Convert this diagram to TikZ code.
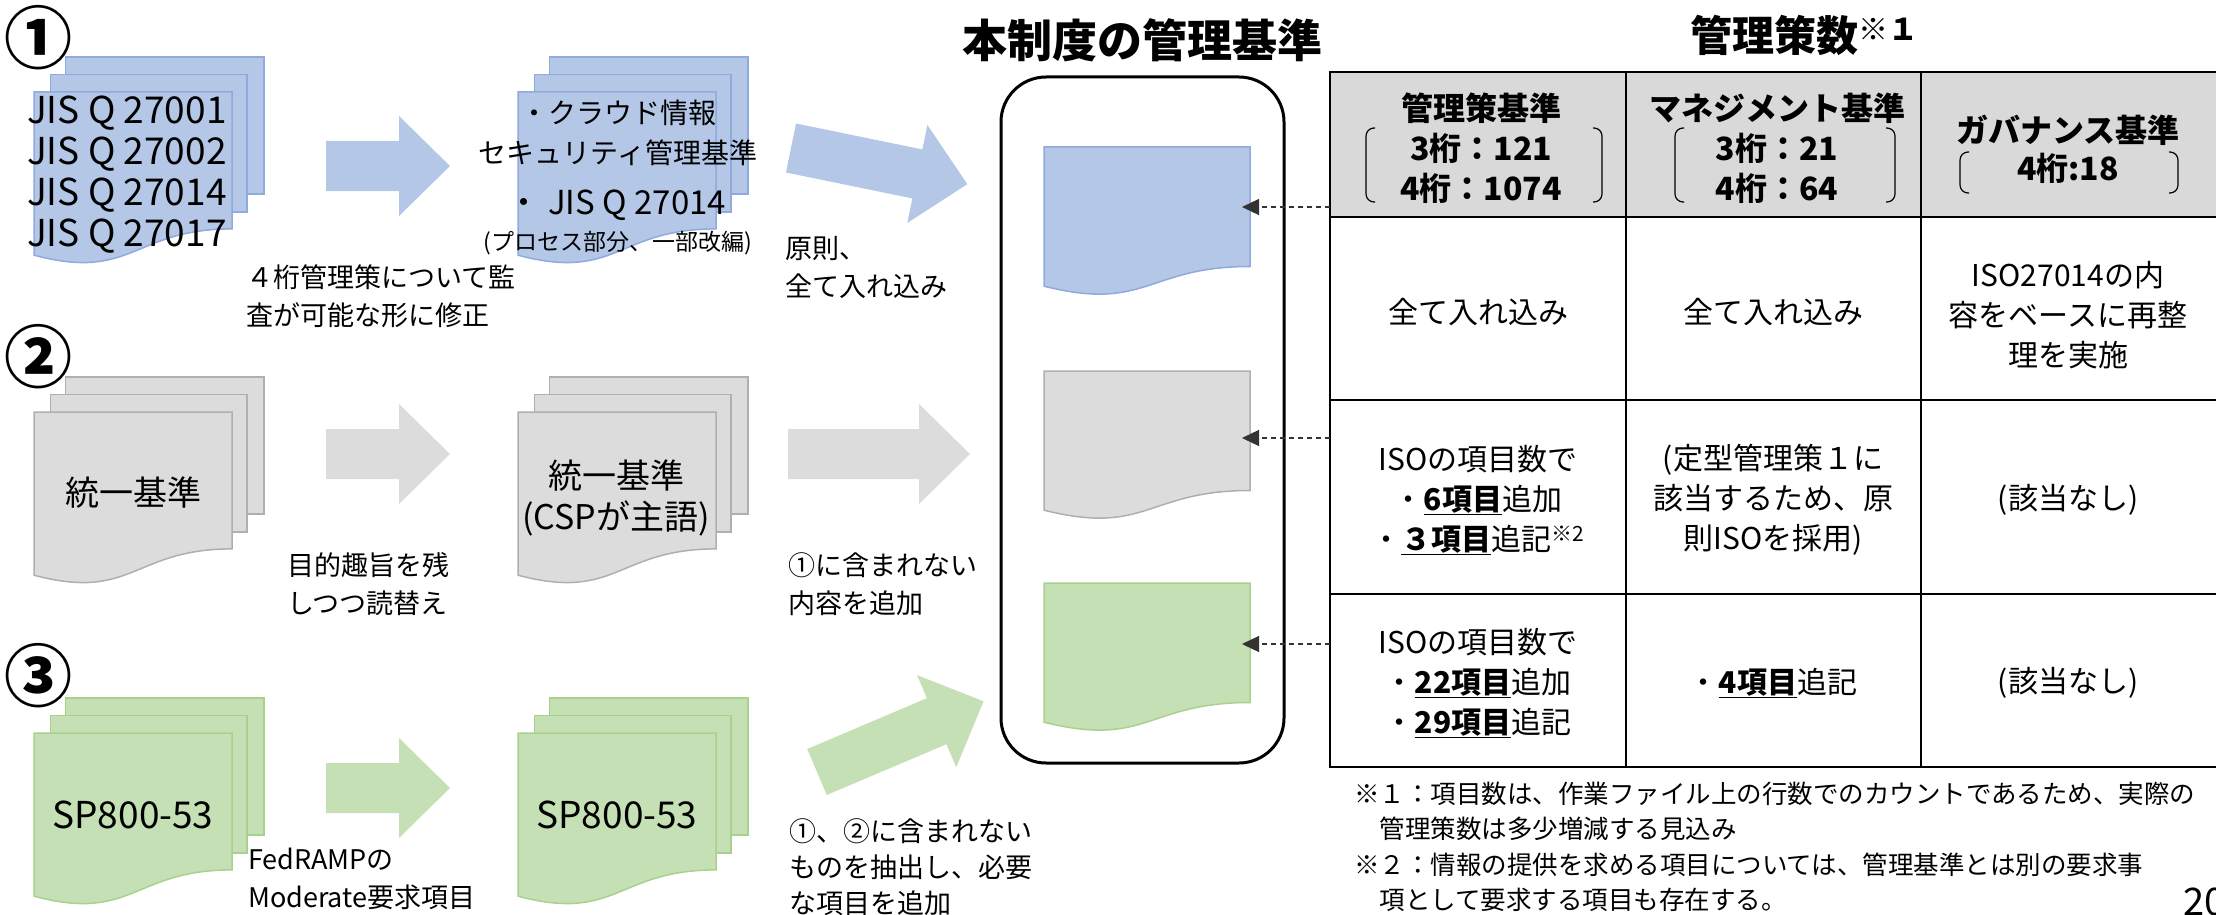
\documentclass[tikz,border=0pt]{standalone}
\usepackage{fontspec}
\setmainfont{Noto Sans CJK JP}
\usetikzlibrary{arrows.meta}

\definecolor{docblue}{HTML}{B4C7E7}
\definecolor{lineblue}{HTML}{8FAADC}
\definecolor{docgray}{HTML}{DCDCDC}
\definecolor{linegray}{HTML}{AFAFAF}
\definecolor{docgreen}{HTML}{C5E0B4}
\definecolor{linegreen}{HTML}{A9D18E}
\definecolor{headgray}{HTML}{D9D9D9}

\newcommand\txtsize[2]{\fontsize{#1}{#2}\selectfont}

% stack of three pages, #1 #2 = top left, #3 = colour style
\newcommand\multidoc[3]{%
  \begin{scope}[shift={(#1,#2)}]
    \draw[#3] (31.6,0) rectangle (230,137.2);
    \draw[#3] (16.3,17.3) rectangle (213,154.9);
    \draw[#3] (0,35) -- (198,35) -- (198,171.9) .. controls (99,171.9) and (99,224.5) .. (0,198.2) -- cycle;
  \end{scope}}

% single page
\newcommand\onedoc[3]{%
  \begin{scope}[shift={(#1,#2)}]
    \draw[#3] (0,0) -- (206,0) -- (206,119.5) .. controls (103,119.5) and (103,165) .. (0,139.2) -- cycle;
  \end{scope}}

% wide arrow: tail centre #1 #2, angle #3, length #4, colour #5
\newcommand\blockarrow[5]{%
  \fill[#5, shift={(#1,#2)}, rotate=#3] (0,-25) -- (#4-51,-25) -- (#4-51,-50) -- (#4,0)
    -- (#4-51,50) -- (#4-51,25) -- (0,25) -- cycle;}

% thin bracket pair
\newcommand\brackets[4]{%
  \draw[bracket] (#1+9,#3) -- (#1,#3) -- (#1,#4) -- (#1+9,#4);
  \draw[bracket] (#2-9,#3) -- (#2,#3) -- (#2,#4) -- (#2-9,#4);}

\tikzset{
  bluedoc/.style={fill=docblue, draw=lineblue, line width=1.5pt},
  graydoc/.style={fill=docgray, draw=linegray, line width=1.5pt},
  greendoc/.style={fill=docgreen, draw=linegreen, line width=1.5pt},
  numtext/.style={inner sep=0pt, font=\bfseries\txtsize{68}{68}},
  doctext/.style={inner sep=0pt, align=center, font=\txtsize{34}{41}},
  note/.style={inner sep=0pt, anchor=west, align=left, font=\txtsize{27}{38}},
  titletext/.style={inner sep=0pt, font=\bfseries\txtsize{45}{45}},
  panel/.style={draw, line width=3pt, rounded corners=45pt, minimum width=283pt, minimum height=686pt},
  tabline/.style={line width=2.5pt},
  cell/.style={inner sep=0pt, align=center, font=\txtsize{30}{40}},
  headcell/.style={cell, font=\bfseries\txtsize{32}{40}},
  bracket/.style={line width=1.2pt, rounded corners=8pt},
  refarrow/.style={dash pattern=on 5pt off 4pt, line width=1.3pt, draw=black!80,
    -{Triangle[length=17pt,width=16pt]}},
}

\begin{document}
\begin{tikzpicture}[x=1pt,y=-1pt]
\useasboundingbox (0,0) rectangle (2216,915);

% numbers
\node[numtext] (num1) at (39,38) {①};
\node[numtext] (num2) at (39,357) {②};
\node[numtext] (num3) at (39,676) {③};

% source documents
\multidoc{34}{57}{bluedoc}
\multidoc{518}{57}{bluedoc}
\multidoc{34}{377}{graydoc}
\multidoc{518}{377}{graydoc}
\multidoc{34}{698}{greendoc}
\multidoc{518}{698}{greendoc}

\node[doctext, anchor=west, align=left, font=\txtsize{37}{41}] (jis) at (27,174.5) {JIS Q 27001\\JIS Q 27002\\JIS Q 27014\\JIS Q 27017};
\node[doctext, font=\txtsize{28}{28}] (cloud1) at (618,113) {・クラウド情報};
\node[doctext, font=\txtsize{28}{28}] (cloud2) at (618,153) {セキュリティ管理基準};
\node[doctext, font=\txtsize{33}{33}] (cloud3) at (617,205) {・ JIS Q 27014};
\node[doctext, font=\txtsize{23}{23}] (cloud4) at (618,243) {(プロセス部分、一部改編)};
\node[doctext] (unif1) at (133,493) {統一基準};
\node[doctext] (unif2) at (616,497.5) {統一基準\\(CSPが主語)};
\node[doctext, font=\txtsize{37}{37}] (sp1) at (133,815) {SP800-53};
\node[doctext, font=\txtsize{37}{37}] (sp2) at (617,815) {SP800-53};

% wide arrows
\blockarrow{326}{166}{0}{124}{docblue}
\blockarrow{791}{148}{-11.6}{180}{docblue}
\blockarrow{326}{454}{0}{124}{docgray}
\blockarrow{788}{454}{0}{182}{docgray}
\blockarrow{326}{788}{0}{124}{docgreen}
\blockarrow{817}{772}{23}{181}{docgreen}

\node[note] (note1) at (246,296.5) {４桁管理策について監\\査が可能な形に修正};
\node[note] (note2) at (785,267.5) {原則、\\全て入れ込み};
\node[note] (note3) at (287,584) {目的趣旨を残\\しつつ読替え};
\node[note] (note4) at (788,584) {①に含まれない\\内容を追加};
\node[note] (note5) at (248,878.5) {FedRAMPの\\Moderate要求項目};
\node[note, font=\txtsize{27}{36}] (note6) at (789,867.5) {①、②に含まれない\\ものを抽出し、必要\\な項目を追加};

% centre panel
\node[titletext] (title1) at (1142,40) {本制度の管理基準};
\node[panel] (pnl) at (1142.5,420) {};
\onedoc{1044}{147}{bluedoc}
\onedoc{1044}{371}{graydoc}
\onedoc{1044}{583}{greendoc}

% table
\node[titletext, font=\bfseries\txtsize{42}{42}] (title2) at (1804,35) {管理策数\raisebox{11pt}{\txtsize{30}{30}※１}};
\fill[headgray] (1330,72) rectangle (2218,217);
\draw[tabline] (1330,72) rectangle (2218,767);
\draw[tabline] (1330,217) -- (2218,217);
\draw[tabline] (1330,400) -- (2218,400);
\draw[tabline] (1330,594) -- (2218,594);
\draw[tabline] (1626,72) -- (1626,767);
\draw[tabline] (1921,72) -- (1921,767);

\node[headcell] (hd1) at (1481,148) {管理策基準\\3桁：121\\4桁：1074};
\node[headcell] (hd2) at (1777,148) {マネジメント基準\\3桁：21\\4桁：64};
\node[headcell, font=\bfseries\txtsize{32}{38}] (hd3) at (2068,149) {ガバナンス基準\\4桁:18};
\brackets{1366}{1602}{128}{202}
\brackets{1675}{1895}{128}{202}
\brackets{1960}{2178}{152}{193}

\node[cell] (c11) at (1478,312) {全て入れ込み};
\node[cell] (c12) at (1773,312) {全て入れ込み};
\node[cell] (c13) at (2068,315) {ISO27014の内\\容をベースに再整\\理を実施};
\node[cell] (c21) at (1478,500) {ISOの項目数で\\・\underline{\textbf{6項目}}追加\\・\underline{\textbf{３項目}}追記\textsuperscript{※2}};
\node[cell] (c22) at (1773,500) {(定型管理策１に\\該当するため、原\\則ISOを採用)};
\node[cell] (c23) at (2068,500) {(該当なし)};
\node[cell] (c31) at (1478,683) {ISOの項目数で\\・\underline{\textbf{22項目}}追加\\・\underline{\textbf{29項目}}追記};
\node[cell] (c32) at (1773,683) {・\underline{\textbf{4項目}}追記};
\node[cell] (c33) at (2068,683) {(該当なし)};

% references from the table
\coordinate (tab1) at (1330,207);
\coordinate (tab2) at (1330,438);
\coordinate (tab3) at (1330,644);
\coordinate (doc1) at (1242,207);
\coordinate (doc2) at (1242,438);
\coordinate (doc3) at (1242,644);
\draw[refarrow] (tab1) -- (doc1);
\draw[refarrow] (tab2) -- (doc2);
\draw[refarrow] (tab3) -- (doc3);

% footnotes
\node[note, font=\txtsize{25.5}{35.5}] (foot) at (1354,847) {※１：項目数は、作業ファイル上の行数でのカウントであるため、実際の\\\hspace*{1em}管理策数は多少増減する見込み\\※２：情報の提供を求める項目については、管理基準とは別の要求事\\\hspace*{1em}項として要求する項目も存在する。};
\node[note, font=\txtsize{38}{38}] (page) at (2183,902) {20};
\end{tikzpicture}
\end{document}
